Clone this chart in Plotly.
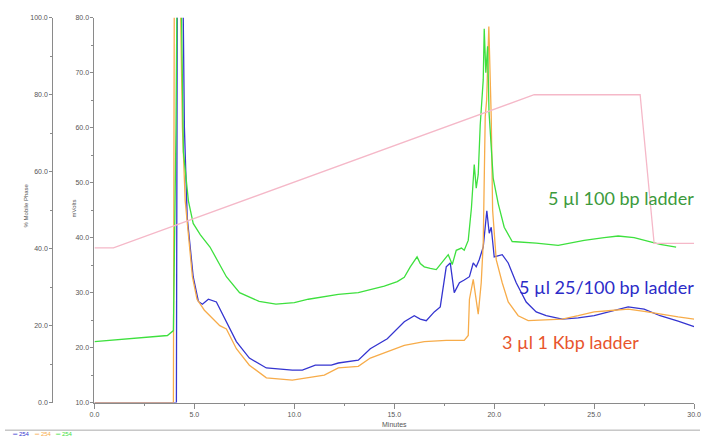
import plotly.graph_objects as go

# ---------------- data ----------------
# Green: 5 ul 100 bp ladder (mVolts vs minutes)
green_t = [0.0, 1.0, 2.0, 3.0, 3.65, 3.95, 4.08, 4.15, 4.3, 4.45, 4.7, 4.94, 5.3, 5.78, 6.2, 6.6, 7.26,
           8.24, 9.08, 10.0, 10.7, 12.2, 13.2, 13.8, 14.5, 15.15, 15.5, 15.8, 16.14, 16.3, 16.5, 16.8, 17.1,
           17.5, 17.7, 17.9, 18.1, 18.36, 18.5, 18.7, 18.86, 19.0, 19.1, 19.2, 19.3, 19.45, 19.5, 19.58,
           19.67, 19.74, 19.95, 20.2, 20.5, 20.9, 21.6, 22.1, 23.2, 24.5, 25.5, 26.2, 27.0, 27.5, 28.3, 29.1]
green_v = [21.1, 21.4, 21.7, 22.0, 22.2, 23.1, 60.0, 95.0, 95.0, 55.6, 46.7, 42.6, 40.5, 38.3, 35.5, 32.9, 30.0,
           28.4, 27.9, 28.2, 28.8, 29.7, 30.0, 30.6, 31.2, 32.0, 32.8, 34.7, 36.5, 35.3, 34.7, 34.4, 34.2,
           36.0, 36.9, 35.1, 37.7, 38.1, 37.7, 39.5, 45.4, 53.3, 49.0, 51.5, 60.5, 68.7, 78.0, 70.0,
           74.8, 62.8, 50.8, 46.2, 41.9, 39.3, 39.2, 39.0, 38.6, 39.5, 40.0, 40.3, 40.0, 39.5, 38.8, 38.3]

# Blue: 5 ul 25/100 bp ladder
blue_t = [0.0, 4.1, 4.15, 4.4, 4.5, 4.64, 4.94, 5.2, 5.4, 5.7, 6.1, 6.6, 7.1, 7.75, 8.6, 9.9, 10.4, 11.05,
          11.85, 12.2, 13.2, 13.8, 14.65, 15.5, 16.0, 16.3, 16.6, 17.0, 17.3, 17.6, 17.8, 18.0, 18.26, 18.5,
          18.76, 18.95, 19.1, 19.25, 19.45, 19.63, 19.75, 19.85, 20.0, 20.4, 20.7, 21.1, 21.6, 22.1, 22.6,
          23.4, 24.2, 25.0, 25.8, 26.7, 27.5, 28.3, 29.2, 30.0]
blue_v = [10.0, 10.0, 95.0, 95.0, 60.0, 43.7, 32.9, 28.4, 27.9, 28.8, 28.3, 24.7, 21.1, 18.1, 16.3, 15.9, 15.9, 16.8,
          16.8, 17.2, 17.7, 19.8, 21.6, 24.7, 25.8, 25.2, 24.9, 26.5, 27.4, 34.7, 35.4, 30.0, 31.8, 32.3,
          32.9, 35.4, 34.7, 36.0, 38.3, 44.9, 40.8, 41.9, 36.5, 36.9, 35.4, 31.8, 28.3, 26.5, 25.8,
          25.2, 25.4, 25.8, 26.5, 27.4, 27.0, 25.8, 24.8, 23.8]

# Orange: 3 ul 1 Kbp ladder
orange_t = [0.0, 3.95, 4.0, 4.25, 4.4, 4.54, 4.9, 5.13, 5.5, 5.78, 6.27, 6.6, 7.1, 7.75, 8.6, 9.9, 11.5,
            12.2, 13.2, 13.8, 14.6, 15.5, 16.5, 17.6, 18.5, 18.7, 18.76, 18.95, 19.2, 19.35, 19.45, 19.55,
            19.62, 19.73, 19.85, 19.92, 20.1, 20.4, 20.7, 21.2, 21.7, 22.5, 23.4, 24.2, 25.0, 26.0, 26.7,
            27.5, 28.3, 29.2, 30.0]
orange_v = [10.0, 10.0, 95.0, 95.0, 60.0, 46.7, 32.9, 28.8, 26.8, 25.8, 24.0, 23.4, 19.8, 16.8, 14.5, 14.1, 15.0,
            16.3, 16.6, 18.1, 19.2, 20.4, 21.1, 21.3, 21.3, 22.2, 28.8, 32.4, 26.1, 31.8, 39.0, 62.0,
            65.0, 78.4, 62.0, 45.0, 36.0, 31.8, 28.3, 25.8, 24.9, 25.0, 25.2, 25.8, 26.5, 26.8, 27.0,
            26.6, 26.1, 25.6, 25.2]

# Pink: % mobile phase gradient
pink_t = [0.0, 0.95, 22.0, 27.3, 28.0, 30.0]
pink_v = [40.2, 40.2, 80.0, 80.0, 41.4, 41.4]

x_ticks = [0, 5, 10, 15, 20, 25, 30]
mv_ticks = [10, 20, 30, 40, 50, 60, 70, 80]
mp_ticks = [0, 20, 40, 60, 80, 100]

labels = ["5 µl 100 bp ladder", "5 µl 25/100 bp ladder", "3 µl 1 Kbp ladder"]
legend_labels = ["254", "254", "254"]

# ---------------- figure ----------------
W, H = 707, 442
fig = go.Figure()

fig.add_trace(go.Scatter(x=blue_t, y=blue_v, mode="lines", line=dict(color="#3535d0", width=1.3),
                         showlegend=False, yaxis="y"))
fig.add_trace(go.Scatter(x=orange_t, y=orange_v, mode="lines", line=dict(color="#f7ac4a", width=1.3),
                         showlegend=False, yaxis="y"))
fig.add_trace(go.Scatter(x=green_t, y=green_v, mode="lines", line=dict(color="#3ee03e", width=1.3),
                         showlegend=False, yaxis="y"))
fig.add_trace(go.Scatter(x=pink_t, y=pink_v, mode="lines", line=dict(color="#f5b8c8", width=1.3),
                         showlegend=False, yaxis="y2"))

tickfont = dict(family="Liberation Sans", size=7, color="#555555")
axcol = "#8a8a8a"

x0, x1 = 91 / W, 701 / W
y0, y1 = (H - 405) / H, (H - 14) / H

fig.update_layout(
    width=W, height=H,
    margin=dict(l=0, r=0, t=0, b=0),
    paper_bgcolor="white", plot_bgcolor="white",
    xaxis=dict(domain=[x0, x1], range=[0, 30], tickvals=x_ticks, tickformat=".1f",
               showgrid=False, zeroline=False, showline=True, linecolor=axcol, linewidth=1,
               ticks="outside", ticklen=5, tickcolor=axcol, tickfont=tickfont,
               ticklabeloverflow="allow",
               minor=dict(dtick=2.5, ticklen=2, tickcolor=axcol, ticks="outside"),
               title=dict(text="Minutes", font=dict(family="Liberation Sans", size=7, color="#555555"),
                          standoff=5)),
    yaxis=dict(domain=[y0, y1], range=[10, 80], tickvals=mv_ticks, tickformat=".1f",
               showgrid=False, zeroline=False, showline=True, linecolor=axcol, linewidth=1,
               ticks="outside", ticklen=3, tickcolor=axcol, tickfont=tickfont,
               ticklabeloverflow="allow",
               minor=dict(dtick=5, ticklen=2, tickcolor=axcol, ticks="outside"),
               anchor="x"),
    yaxis2=dict(range=[0, 100], tickvals=mp_ticks, tickformat=".1f", overlaying="y",
                anchor="free", position=48 / W, side="left",
                showgrid=False, zeroline=False, showline=True, linecolor=axcol, linewidth=1,
                ticks="outside", ticklen=3, tickcolor=axcol, tickfont=tickfont,
                ticklabeloverflow="allow",
                minor=dict(dtick=10, ticklen=2, tickcolor=axcol, ticks="outside")),
)

# axis titles as rotated annotations
fig.add_annotation(x=21 / W, y=(H - 205) / H, xref="paper", yref="paper", text="% Mobile Phase",
                   textangle=-90, showarrow=False, xanchor="center", yanchor="middle",
                   font=dict(family="Liberation Sans", size=6, color="#555555"))
fig.add_annotation(x=70 / W, y=(H - 208) / H, xref="paper", yref="paper", text="mVolts",
                   textangle=-90, showarrow=False, xanchor="center", yanchor="middle",
                   font=dict(family="Liberation Sans", size=6, color="#555555"))

# series labels
lab_font = "Lato"
fig.add_annotation(x=627 / W, y=(H - 197) / H, xref="paper", yref="paper", text=labels[0],
                   showarrow=False, xanchor="center", yanchor="middle",
                   font=dict(family=lab_font, size=18, color="#3c9a3c"))
fig.add_annotation(x=612 / W, y=(H - 288) / H, xref="paper", yref="paper", text=labels[1],
                   showarrow=False, xanchor="center", yanchor="middle",
                   font=dict(family=lab_font, size=18, color="#2c2cc8"))
fig.add_annotation(x=575 / W, y=(H - 343) / H, xref="paper", yref="paper", text=labels[2],
                   showarrow=False, xanchor="center", yanchor="middle",
                   font=dict(family=lab_font, size=18, color="#e8552d"))

# bottom separator line and tiny legend
fig.add_shape(type="line", xref="paper", yref="paper", x0=0, x1=1, y0=(H - 433) / H, y1=(H - 433) / H,
              line=dict(color="#aaaaaa", width=1))
leg_cols = ["#3535d0", "#f7ac4a", "#3ee03e"]
for i, (c, t) in enumerate(zip(leg_cols, legend_labels)):
    fig.add_annotation(x=(5 + i * 22) / W, y=(H - 437) / H, xref="paper", yref="paper",
                       text="═ " + t, showarrow=False, xanchor="left", yanchor="middle",
                       font=dict(family="Liberation Sans", size=6, color=c))

fig.write_html("out.html")
